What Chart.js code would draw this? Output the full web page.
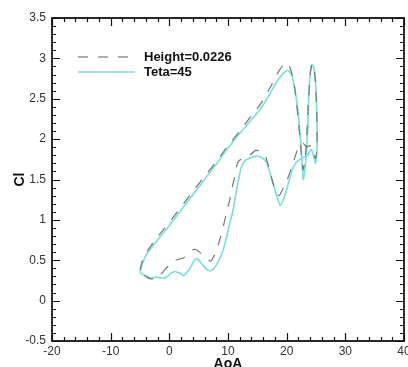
<!DOCTYPE html>
<html>
<head>
<meta charset="utf-8">
<script src="https://cdn.jsdelivr.net/npm/chart.js@4/dist/chart.umd.min.js"></script>
<style>
  html, body { margin: 0; padding: 0; background: #fff; overflow: hidden; }
  #wrap { position: absolute; left: 0; top: 0; width: 414px; height: 380px; }
</style>
</head>
<body>
<div id="wrap"><canvas id="myChart"></canvas></div>
<script>
// axis ticks
var xTicks = [-20, -10, 0, 10, 20, 30, 40];
var yTicks = [-0.5, 0, 0.5, 1, 1.5, 2, 2.5, 3, 3.5];

// Height=0.0226 (dashed)
var heightAoA = [-5.0, -4.7, -4.2, -3.5, -2.5, -1.0, 0, 2, 4, 6, 8, 10, 12, 14, 15.5, 16.5, 17.5, 18.5, 19.4, 20.0,
  20.6, 21.2, 21.6, 22.0, 22.3, 22.6, 22.8, 23.1, 23.4, 23.7, 24.0, 24.3, 24.6, 24.9, 25.1, 25.2,
  25.1, 24.9, 24.6, 24.3, 23.9, 23.4, 22.8, 22.3, 21.8, 21.2, 20.6, 19.9, 19.2, 18.7, 18.1, 17.5, 17.0, 16.4,
  15.6, 14.7, 13.7, 13.0, 12.2, 11.6, 11.2, 10.7, 10.3, 9.8, 9.3, 8.8, 8.2, 7.6, 7.0, 6.3, 5.5, 4.6, 4.0,
  3.2, 2.4, 1.5, 0.7, 0, -0.8, -1.6, -2.4, -3.2, -4.0, -4.6, -5.0];
var heightCl = [0.38, 0.47, 0.56, 0.64, 0.74, 0.88, 0.97, 1.16, 1.35, 1.54, 1.72, 1.92, 2.1, 2.29, 2.43, 2.55, 2.68, 2.82, 2.92, 2.95,
  2.88, 2.72, 2.5, 2.22, 1.98, 1.75, 1.62, 1.72, 2.0, 2.45, 2.8, 2.93, 2.9, 2.72, 2.4, 2.05,
  1.82, 1.76, 1.82, 1.9, 1.92, 1.9, 1.95, 1.93, 1.86, 1.73, 1.6, 1.46, 1.36, 1.3, 1.36, 1.5, 1.64, 1.78,
  1.85, 1.86, 1.8, 1.77, 1.75, 1.7, 1.55, 1.4, 1.25, 1.1, 0.95, 0.8, 0.66, 0.55, 0.49, 0.53, 0.58, 0.63, 0.63,
  0.57, 0.53, 0.51, 0.49, 0.44, 0.38, 0.31, 0.27, 0.27, 0.3, 0.34, 0.38];

// Teta=45 (solid)
var tetaAoA = [-5.0, -4.6, -4.0, -3.0, -2.0, -1.0, 0, 2, 4, 6, 8, 10, 12, 14, 15.5, 16.3, 17.2, 18.3, 19.4, 20.2,
  20.9, 21.3, 21.7, 22.1, 22.4, 22.6, 22.8, 23.0, 23.3, 23.6, 23.8, 24.0, 24.3, 24.6, 24.9, 25.1, 25.2,
  25.1, 24.9, 24.7, 24.4, 24.1, 23.8, 23.5, 23.0, 22.5, 21.7, 21.0, 20.3, 19.6, 18.9, 18.4, 17.8, 17.2, 16.6,
  15.8, 14.9, 13.9, 13.0, 12.3, 11.8, 11.3, 10.8, 10.3, 9.8, 9.2, 8.6, 8.0, 7.5, 6.9, 6.3, 5.6, 4.7, 4.2,
  3.6, 3.0, 2.4, 1.8, 1.0, 0.3, -0.5, -1.3, -2.2, -3.0, -3.8, -4.5, -5.0];
var tetaCl = [0.35, 0.45, 0.56, 0.66, 0.75, 0.84, 0.93, 1.12, 1.31, 1.5, 1.69, 1.89, 2.07, 2.24, 2.37, 2.46, 2.57, 2.71, 2.81, 2.85,
  2.79, 2.65, 2.48, 2.22, 1.95, 1.74, 1.5, 1.55, 1.76, 2.15, 2.55, 2.8, 2.92, 2.89, 2.72, 2.4, 2.05,
  1.8, 1.7, 1.76, 1.84, 1.87, 1.83, 1.79, 1.78, 1.76, 1.72, 1.63, 1.45, 1.28, 1.18, 1.28, 1.42, 1.57, 1.71,
  1.77, 1.79, 1.77, 1.74, 1.66, 1.5, 1.3, 1.1, 0.96, 0.8, 0.63, 0.52, 0.44, 0.39, 0.37, 0.39, 0.45, 0.52, 0.49,
  0.41, 0.35, 0.31, 0.34, 0.36, 0.34, 0.29, 0.28, 0.29, 0.28, 0.3, 0.32, 0.35];

function pts(xs, ys) {
    return xs.map(function (v, i) { return {x: v, y: ys[i]}; });
}

// inner major/minor ticks on all four sides + frame
var frameTicks = {
    id: 'frameTicks',
    afterDraw: function (chart) {
        var ctx = chart.ctx, a = chart.chartArea;
        var x = chart.scales.x, y = chart.scales.y;
        ctx.save();
        ctx.strokeStyle = '#111';
        ctx.lineWidth = 1.2;
        ctx.beginPath();
        for (var i = 0; i <= 30; i++) {
            var v = -20 + i * 2;
            var px = Math.round(x.getPixelForValue(v)) + 0.5;
            var len = (i % 5 == 0) ? 8 : 4;
            ctx.moveTo(px, a.bottom); ctx.lineTo(px, a.bottom - len);
            ctx.moveTo(px, a.top); ctx.lineTo(px, a.top + len);
        }
        for (var j = 0; j <= 40; j++) {
            var w = -0.5 + j * 0.1;
            var py = Math.round(y.getPixelForValue(w)) + 0.5;
            var l = (j % 5 == 0) ? 8 : 4;
            ctx.moveTo(a.left, py); ctx.lineTo(a.left + l, py);
            ctx.moveTo(a.right, py); ctx.lineTo(a.right - l, py);
        }
        ctx.stroke();
        ctx.lineWidth = 1.8;
        ctx.strokeRect(a.left, a.top, a.right - a.left, a.bottom - a.top);
        ctx.restore();
    }
};

// legend inside the plot, upper left
var boxLegend = {
    id: 'boxLegend',
    afterDraw: function (chart) {
        var ctx = chart.ctx;
        var sets = chart.data.datasets;
        var rows = [57, 72];
        ctx.save();
        ctx.font = 'bold 13px "Liberation Sans", Arial, sans-serif';
        ctx.textBaseline = 'middle';
        ctx.fillStyle = '#111';
        for (var k = 0; k < sets.length; k++) {
            var ds = sets[k];
            ctx.beginPath();
            ctx.strokeStyle = ds.borderColor;
            ctx.lineWidth = ds.borderWidth;
            ctx.setLineDash(ds.borderDash || []);
            ctx.moveTo(78, rows[k]);
            ctx.lineTo(k == 0 ? 132 : 135, rows[k]);
            ctx.stroke();
            ctx.setLineDash([]);
            ctx.fillText(ds.label, 144, rows[k]);
        }
        ctx.restore();
    }
};

var ctx = document.getElementById('myChart');
new Chart(ctx, {
    type: 'scatter',
    data: {
        datasets: [{
            label: 'Height=0.0226',
            data: pts(heightAoA, heightCl),
            showLine: true,
            borderColor: '#6e7c72',
            borderWidth: 1.2,
            borderDash: [10, 10],
            pointRadius: 0,
            tension: 0.2,
            fill: false
        }, {
            label: 'Teta=45',
            data: pts(tetaAoA, tetaCl),
            showLine: true,
            borderColor: '#80dede',
            borderWidth: 1.7,
            pointRadius: 0,
            tension: 0.2,
            fill: false
        }]
    },
    options: {
        responsive: true,
        maintainAspectRatio: false,
        animation: false,
        layout: { padding: { left: 0, right: 10, top: 18, bottom: 0 } },
        plugins: {
            legend: { display: false },
            tooltip: { enabled: false }
        },
        scales: {
            x: {
                type: 'linear',
                min: -20,
                max: 40,
                afterBuildTicks: function (s) { s.ticks = xTicks.map(function (v) { return {value: v}; }); },
                afterFit: function (s) { s.height = 39; },
                grid: { display: false, drawTicks: false },
                border: { display: false },
                ticks: {
                    padding: 3,
                    color: '#333',
                    maxRotation: 0,
                    font: { family: '"Liberation Sans", Arial, sans-serif', size: 12 },
                    callback: function (v) { return String(v); }
                },
                title: {
                    display: true,
                    text: 'AoA',
                    color: '#111',
                    padding: { top: 0, bottom: 7 },
                    font: { family: '"Liberation Sans", Arial, sans-serif', size: 14, weight: 'bold' }
                }
            },
            y: {
                type: 'linear',
                min: -0.5,
                max: 3.5,
                afterBuildTicks: function (s) { s.ticks = yTicks.map(function (v) { return {value: v}; }); },
                afterFit: function (s) { s.width = 52; },
                grid: { display: false, drawTicks: false },
                border: { display: false },
                ticks: {
                    padding: 6,
                    color: '#333',
                    font: { family: '"Liberation Sans", Arial, sans-serif', size: 12 },
                    callback: function (v) { return String(v); }
                },
                title: {
                    display: true,
                    text: 'Cl',
                    color: '#111',
                    padding: { top: 12, bottom: 0 },
                    font: { family: '"Liberation Sans", Arial, sans-serif', size: 14, weight: 'bold' }
                }
            }
        }
    },
    plugins: [frameTicks, boxLegend]
});
</script>
</body>
</html>
